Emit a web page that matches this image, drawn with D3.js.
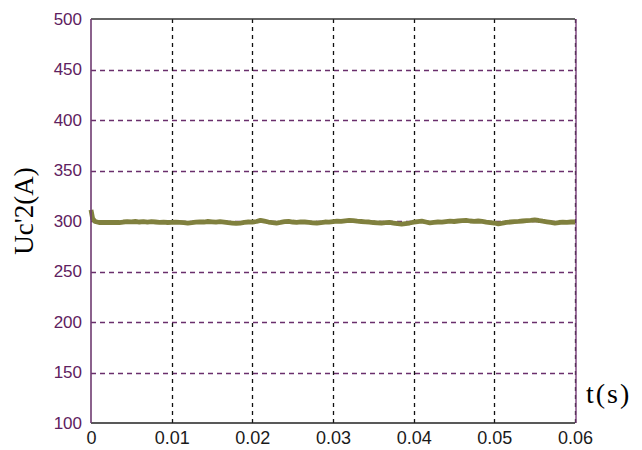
<!DOCTYPE html>
<html>
<head>
<meta charset="utf-8">
<script src="https://cdn.jsdelivr.net/npm/d3@7"></script>
<style>
  html, body { margin: 0; padding: 0; background: #fff; }
  svg { display: block; }
</style>
</head>
<body>
<svg id="chart" width="642" height="450"></svg>
<script>
// Capacitor voltage Uc'2 over the first 60 ms of the simulation
const time = [
  0, 0.0002, 0.0005, 0.001, 0.0015, 0.002, 0.0025, 0.003, 0.0035, 0.004, 0.0045,
  0.005, 0.0055, 0.006, 0.0065, 0.007, 0.0075, 0.008, 0.0085, 0.009, 0.0095,
  0.01, 0.0105, 0.011, 0.0115, 0.012, 0.0125, 0.013, 0.0135, 0.014, 0.0145,
  0.015, 0.0155, 0.016, 0.0165, 0.017, 0.0175, 0.018, 0.0185, 0.019, 0.0195,
  0.02, 0.0205, 0.021, 0.0215, 0.022, 0.0225, 0.023, 0.0235, 0.024, 0.0245,
  0.025, 0.0255, 0.026, 0.0265, 0.027, 0.0275, 0.028, 0.0285, 0.029, 0.0295,
  0.03, 0.0305, 0.031, 0.0315, 0.032, 0.0325, 0.033, 0.0335, 0.034, 0.0345,
  0.035, 0.0355, 0.036, 0.0365, 0.037, 0.0375, 0.038, 0.0385, 0.039, 0.0395,
  0.04, 0.0405, 0.041, 0.0415, 0.042, 0.0425, 0.043, 0.0435, 0.044, 0.0445,
  0.045, 0.0455, 0.046, 0.0465, 0.047, 0.0475, 0.048, 0.0485, 0.049, 0.0495,
  0.05, 0.0505, 0.051, 0.0515, 0.052, 0.0525, 0.053, 0.0535, 0.054, 0.0545,
  0.055, 0.0555, 0.056, 0.0565, 0.057, 0.0575, 0.058, 0.0585, 0.059, 0.0595,
  0.06
];
const voltage = [
  311, 302.5, 299.5, 298.5, 298.5, 298.6, 298.5, 298.6, 298.5, 299.0, 299.4,
  299.2, 299.5, 299.0, 299.4, 298.8, 299.3, 299.0, 298.7, 298.8, 298.5,
  298.6, 298.9, 298.7, 298.4, 298.0, 298.4, 298.9, 299.2, 299.0, 299.5,
  299.2, 298.8, 299.3, 298.9, 298.4, 298.0, 297.6, 297.9, 298.6, 299.0,
  298.8, 299.5, 300.6, 299.8, 299.0, 298.5, 298.0, 298.6, 299.3, 299.6,
  299.0, 298.7, 299.2, 299.0, 298.6, 298.2, 298.0, 298.5, 299.0, 298.8,
  299.3, 299.8, 299.6, 300.2, 300.6, 300.3, 299.8, 299.5, 299.2, 299.0,
  298.5, 298.2, 298.0, 298.4, 298.6, 298.0, 297.3, 297.0, 297.5, 298.0,
  298.8, 299.4, 299.8, 299.0, 298.2, 298.7, 299.0, 298.8, 299.4, 299.8,
  299.5, 300.0, 300.3, 300.6, 300.0, 299.6, 300.0, 299.6, 299.0, 298.5,
  298.0, 297.2, 297.8, 298.6, 299.0, 299.3, 299.6, 300.0, 300.3, 300.6,
  301.0, 300.5, 299.8, 299.2, 298.6, 298.0, 298.5, 298.8, 298.6, 299.0,
  299.0
];
const xTicks = [0, 0.01, 0.02, 0.03, 0.04, 0.05, 0.06];
const xTickLabels = ["0", "0.01", "0.02", "0.03", "0.04", "0.05", "0.06"];
const yTicks = [100, 150, 200, 250, 300, 350, 400, 450, 500];
const xTitle = "t(s)";
const yTitle = "Uc'2(A)";

const svg = d3.select("#chart");
const plot = { left: 91, right: 575, top: 19, bottom: 423 };

const x = d3.scaleLinear().domain([0, 0.06]).range([plot.left, plot.right]);
const y = d3.scaleLinear().domain([100, 500]).range([plot.bottom, plot.top]);

const purple = "#5e2160";
const olive = "#80803e";

// Grid: horizontal purple dashes, vertical black dashes
svg.append("g")
  .selectAll("line")
  .data(yTicks.filter(v => v > 100 && v < 500))
  .join("line")
  .attr("x1", plot.left).attr("x2", plot.right)
  .attr("y1", d => Math.round(y(d)) + 0.5).attr("y2", d => Math.round(y(d)) + 0.5)
  .attr("stroke", "#6a2f6c").attr("stroke-width", 1.3)
  .attr("stroke-dasharray", "5,4");

svg.append("g")
  .selectAll("line")
  .data(xTicks.filter(v => v > 0))
  .join("line")
  .attr("x1", d => Math.round(x(d)) + 0.5).attr("x2", d => Math.round(x(d)) + 0.5)
  .attr("y1", plot.top).attr("y2", plot.bottom)
  .attr("stroke", "#111").attr("stroke-width", 1.3)
  .attr("stroke-dasharray", "4,4");

// Data trace
const line = d3.line()
  .x((d, i) => x(time[i]))
  .y(d => y(d));

svg.append("path")
  .datum(voltage)
  .attr("d", line)
  .attr("fill", "none")
  .attr("stroke", olive)
  .attr("stroke-width", 4.8)
  .attr("stroke-linejoin", "round");

// Frame: black top/bottom, purple left/right
svg.append("line").attr("x1", plot.left).attr("x2", plot.right).attr("y1", plot.top).attr("y2", plot.top)
  .attr("stroke", "#333").attr("stroke-width", 1.5);
svg.append("line").attr("x1", plot.left).attr("x2", plot.right).attr("y1", plot.bottom).attr("y2", plot.bottom)
  .attr("stroke", "#222").attr("stroke-width", 1.5);
svg.append("line").attr("x1", plot.left).attr("x2", plot.left).attr("y1", plot.top).attr("y2", plot.bottom)
  .attr("stroke", "#6e3a70").attr("stroke-width", 1.6);
svg.append("line").attr("x1", plot.right + 1).attr("x2", plot.right + 1).attr("y1", plot.top).attr("y2", plot.bottom)
  .attr("stroke", "#7a3f7c").attr("stroke-width", 1.4);

// Axis labels via d3 axes (domain and tick lines hidden)
const yAxis = d3.axisLeft(y).tickValues(yTicks).tickSize(0).tickPadding(9);
const gy = svg.append("g").attr("transform", `translate(${plot.left},0)`).call(yAxis);
gy.select(".domain").remove();
gy.selectAll("text")
  .attr("fill", purple)
  .style("font-family", "'Liberation Sans', Arial, sans-serif")
  .style("font-size", "17px");

const xAxis = d3.axisBottom(x).tickValues(xTicks)
  .tickFormat((d, i) => xTickLabels[i]).tickSize(0).tickPadding(8);
const gx = svg.append("g").attr("transform", `translate(0,${plot.bottom})`).call(xAxis);
gx.select(".domain").remove();
gx.selectAll("text")
  .attr("fill", "#1a1a1a")
  .style("font-family", "'Liberation Sans', Arial, sans-serif")
  .style("font-size", "18px");

// Titles
svg.append("text")
  .attr("transform", "translate(33,211) rotate(-90)")
  .attr("text-anchor", "middle")
  .style("font-family", "'Liberation Serif', 'Times New Roman', serif")
  .style("font-size", "27px")
  .attr("fill", "#000")
  .text(yTitle);

svg.append("text")
  .attr("x", 586).attr("y", 403)
  .style("font-family", "'Liberation Serif', 'Times New Roman', serif")
  .style("font-size", "28px")
  .style("letter-spacing", "2px")
  .attr("fill", "#000")
  .text(xTitle);
</script>
</body>
</html>
